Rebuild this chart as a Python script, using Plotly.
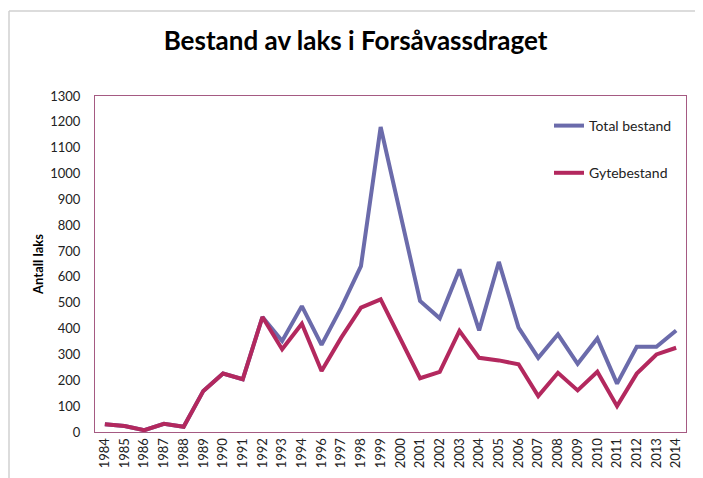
import plotly.graph_objects as go

years = ["1984", "1985", "1986", "1987", "1988", "1989", "1990", "1991", "1992", "1993",
         "1994", "1996", "1997", "1998", "1999", "2000", "2001", "2002", "2003", "2004",
         "2005", "2006", "2007", "2008", "2009", "2010", "2011", "2012", "2013", "2014"]

total_bestand = [30, 23, 7, 32, 20, 159, 226, 204, 445, 352,
                 487, 337, 481, 642, 1180, 850, 507, 440, 629, 393,
                 658, 404, 287, 378, 264, 362, 187, 330, 330, 393]

gytebestand = [30, 23, 7, 32, 20, 159, 226, 204, 445, 320,
               419, 236, 365, 481, 513, 361, 208, 233, 391, 287,
               277, 262, 139, 229, 161, 233, 100, 226, 300, 326]

# page body has an 8px default margin; work in screen pixels and subtract it
OFF = 8
W, H = 703 - OFF, 478 - OFF
PL, PR, PT, PB = 95, 686, 96, 432          # plot area in screen pixels
L, T = PL - OFF, PT - OFF
R, B = W - (PR - OFF), H - (PB - OFF)
pw, ph = PR - PL, PB - PT

def px(x):
    return (x - PL) / pw

def py(y):
    return (PB - y) / ph

fig = go.Figure()
fig.add_trace(go.Scatter(x=years, y=total_bestand, mode="lines", name="Total bestand",
                         legendgroup="a",
                         line=dict(color="#6B6BAB", width=4)))
fig.add_trace(go.Scatter(x=years, y=gytebestand, mode="lines", name="Gytebestand",
                         legendgroup="b",
                         line=dict(color="#B3285E", width=4)))

border = dict(color="#D0D0D0", width=1.5)
fig.update_layout(
    width=W, height=H,
    margin=dict(l=L, r=R, t=T, b=B, autoexpand=False),
    paper_bgcolor="white", plot_bgcolor="white",
    font=dict(family="Lato, Open Sans, sans-serif", color="#333333"),
    title=dict(text="<b>Bestand av laks i Forsåvassdraget</b>", x=0.5, xanchor="center",
               y=1 - (41 - OFF) / H, yanchor="middle",
               font=dict(size=26, color="black", family="Lato, Open Sans, sans-serif")),
    showlegend=True,
    legend=dict(x=px(549), y=py(110), xanchor="left", yanchor="top",
                tracegroupgap=26, bgcolor="rgba(0,0,0,0)",
                font=dict(size=14, color="#222222")),
    xaxis=dict(type="category", range=[-0.5, 29.5], tickangle=-90, automargin=False,
               showline=True, linecolor="#A55A82", linewidth=1, mirror=True,
               showgrid=False, ticks="", tickfont=dict(size=13, color="#222222")),
    yaxis=dict(range=[0, 1300], dtick=100, showgrid=False, zeroline=False, automargin=False,
               showline=True, linecolor="#A55A82", linewidth=1, mirror=True,
               ticks="", ticklabelstandoff=11, tickfont=dict(size=13, color="#222222"),
               title=dict(text="<b>Antall laks</b>", standoff=3,
                          font=dict(size=13, color="black"))),
    shapes=[
        dict(type="line", xref="paper", yref="paper",
             x0=px(9), x1=px(703), y0=py(11), y1=py(11), line=border, layer="below"),
        dict(type="line", xref="paper", yref="paper",
             x0=px(9), x1=px(9), y0=py(11), y1=py(478), line=border, layer="below"),
    ],
)

fig.write_html("out.html")
